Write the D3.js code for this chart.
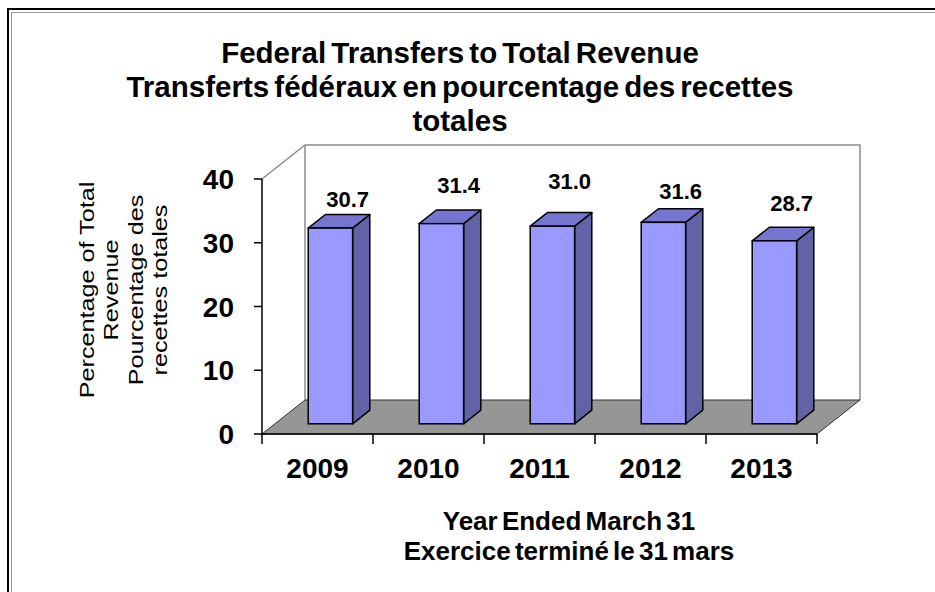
<!DOCTYPE html>
<html lang="en">
<head>
    <meta charset="UTF-8">
    <title>Federal Transfers to Total Revenue</title>
    <style>
        body { margin: 0; background: #fff; }
        text { font-family: "Liberation Sans", Arial, sans-serif; fill: #000; }
    </style>
    <script src="https://d3js.org/d3.v7.min.js"></script>
</head>
<body>
    <svg width="935" height="592"></svg>
    <script>
        // data
        const years = ['2009', '2010', '2011', '2012', '2013'];
        const values = [30.7, 31.4, 31.0, 31.6, 28.7];
        const yTicks = [0, 10, 20, 30, 40];
        const titleLines = ['Federal Transfers to Total Revenue',
                            'Transferts fédéraux en pourcentage des recettes',
                            'totales'];
        const yTitleLines = ['Percentage of Total', 'Revenue', 'Pourcentage des', 'recettes totales'];
        const xTitleLines = ['Year Ended March 31', 'Exercice terminé le 31 mars'];
        // hand-placed label nudges (px), as in the original chart
        const labelNudge = [7, -3, -9, 5, -2];

        const svg = d3.select("svg");

        // frame
        svg.append("path").attr("d", "M8,592V9H935").attr("fill", "none")
            .attr("stroke", "#000").attr("stroke-width", 2);
        svg.append("path").attr("d", "M11.5,592V12.5H935").attr("fill", "none")
            .attr("stroke", "#999").attr("stroke-width", 1);

        const x = d3.scaleBand().domain(years).range([262, 817]);
        const y = d3.scaleLinear().domain([0, 40]).range([434, 179]);
        const DX = 43, DY = -34;      // depth of the 3d box
        const f0 = 0.3, f1 = 0.7;     // bar depth, front and back
        const barW = x.bandwidth() * 0.4;

        const x0 = x.range()[0], x1 = x.range()[1];
        const yb = y(0), yt = y(40);

        // walls
        svg.append("path")
            .attr("d", `M${x0},${yt}L${x0 + DX},${yt + DY}H${x1 + DX}V${yb + DY}`)
            .attr("fill", "none").attr("stroke", "#8c8c8c").attr("stroke-width", 1.5);
        svg.append("line")
            .attr("x1", x0 + DX).attr("x2", x0 + DX).attr("y1", yt + DY).attr("y2", yb + DY)
            .attr("stroke", "#8c8c8c").attr("stroke-width", 1.5);

        // floor
        svg.append("path")
            .attr("d", `M${x0},${yb}H${x1}L${x1 + DX},${yb + DY}H${x0 + DX}Z`)
            .attr("fill", "#969696").attr("stroke", "#333").attr("stroke-width", 1);

        // y axis
        svg.append("line").attr("x1", x0).attr("x2", x0).attr("y1", yt).attr("y2", yb)
            .attr("stroke", "#000").attr("stroke-width", 1.5);
        const yAx = svg.append("g");
        yAx.selectAll("line").data(yTicks).enter().append("line")
            .attr("x1", x0 - 8).attr("x2", x0).attr("y1", d => y(d)).attr("y2", d => y(d))
            .attr("stroke", "#000").attr("stroke-width", 1.5);
        yAx.selectAll("text").data(yTicks).enter().append("text")
            .attr("x", 234).attr("y", d => y(d)).attr("dy", "0.36em")
            .attr("text-anchor", "end").attr("font-size", 28).attr("font-weight", "bold")
            .text(d => d);

        // x axis
        svg.append("line").attr("x1", x0).attr("x2", x1).attr("y1", yb).attr("y2", yb)
            .attr("stroke", "#000").attr("stroke-width", 1.5);
        const bounds = years.map(d => x(d)).concat([x1]);
        svg.selectAll(".xtick").data(bounds).enter().append("line")
            .attr("x1", d => d).attr("x2", d => d).attr("y1", yb).attr("y2", yb + 10)
            .attr("stroke", "#000").attr("stroke-width", 1.5);
        svg.selectAll(".xlab").data(years).enter().append("text")
            .attr("x", d => x(d) + x.bandwidth() / 2).attr("y", 478)
            .attr("text-anchor", "middle").attr("font-size", 28).attr("font-weight", "bold")
            .text(d => d);

        // bars
        const bars = svg.selectAll(".bar").data(years.map((d, i) => ({year: d, v: values[i], i})))
            .enter().append("g");
        bars.each(function (d) {
            const g = d3.select(this);
            const cx = x(d.year) + x.bandwidth() / 2;
            const fx = cx - barW / 2 + f0 * DX, fy = f0 * DY;
            const bx = f1 * DX, by = f1 * DY;
            const top = y(d.v), bot = y(0);
            const L = fx, R = fx + barW;
            const ddx = bx - f0 * DX, ddy = by - fy;
            // side
            g.append("path")
                .attr("d", `M${R},${top + fy}L${R + ddx},${top + fy + ddy}V${bot + fy + ddy}L${R},${bot + fy}Z`)
                .attr("fill", "#6262a6").attr("stroke", "#000").attr("stroke-width", 1.5)
                .attr("stroke-linejoin", "round");
            // top
            g.append("path")
                .attr("d", `M${L},${top + fy}L${L + ddx},${top + fy + ddy}H${R + ddx}L${R},${top + fy}Z`)
                .attr("fill", "#7575cf").attr("stroke", "#000").attr("stroke-width", 1.5)
                .attr("stroke-linejoin", "round");
            // front
            g.append("rect").attr("x", L).attr("y", top + fy).attr("width", barW).attr("height", bot - top)
                .attr("fill", "#9999ff").attr("stroke", "#000").attr("stroke-width", 1.5);
            // value label
            g.append("text")
                .attr("x", L + barW / 2 + ddx).attr("y", top + fy - 36 + labelNudge[d.i])
                .attr("dy", "0.36em").attr("text-anchor", "middle")
                .attr("font-size", 22).attr("font-weight", "bold")
                .text(d3.format(".1f")(d.v));
        });

        // titles
        svg.selectAll(".title").data(titleLines).enter().append("text")
            .attr("x", 460).attr("y", (d, i) => 63 + i * 34)
            .attr("text-anchor", "middle").attr("font-size", 29.5).attr("font-weight", "bold")
            .attr("word-spacing", -3)
            .text(d => d);

        svg.selectAll(".xtitle").data(xTitleLines).enter().append("text")
            .attr("x", 569).attr("y", (d, i) => 530 + i * 30)
            .attr("text-anchor", "middle").attr("font-size", 26).attr("font-weight", "bold")
            .attr("word-spacing", -3)
            .text(d => d);

        const yTitle = svg.append("g").attr("transform", "translate(123,290) rotate(-90) scale(1.2,1)");
        yTitle.selectAll("text").data(yTitleLines).enter().append("text")
            .attr("x", 0).attr("y", (d, i) => (i - 1.5) * 24.5).attr("dy", "0.36em")
            .attr("text-anchor", "middle").attr("font-size", 21)
            .text(d => d);
    </script>
</body>
</html>
